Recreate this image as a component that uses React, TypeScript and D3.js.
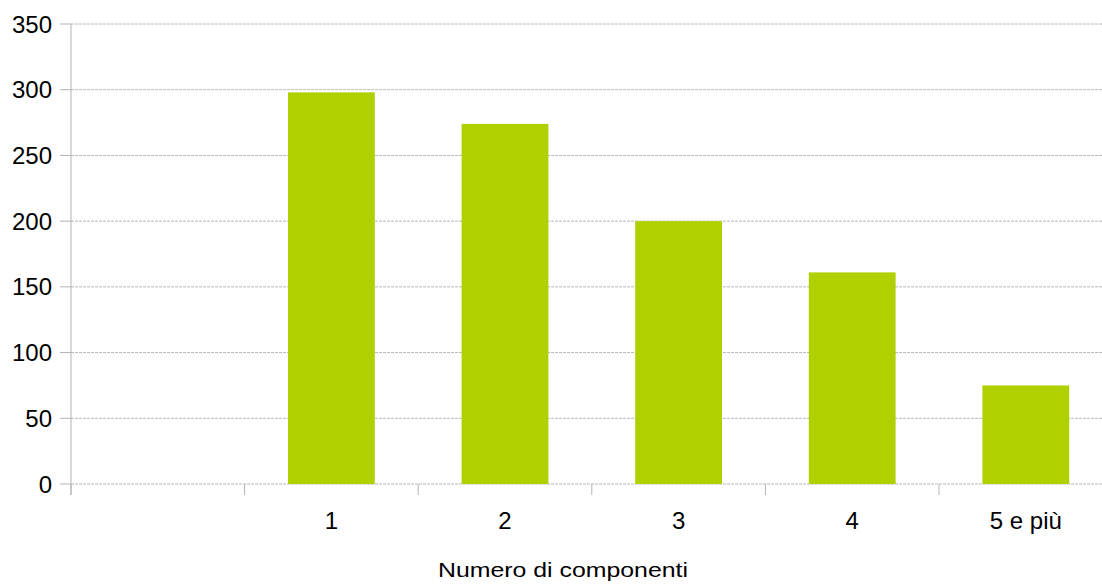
import React from "react";
import * as d3 from "d3";

const categories = ["", "1", "2", "3", "4", "5 e più"];
const values = [null, 298, 274, 200, 161, 75];
const yTicks = [0, 50, 100, 150, 200, 250, 300, 350];
const xTitle = "Numero di componenti";

export default function App() {
  const W = 1102, H = 586;
  const left = 71, right = 1112.6, top = 24, bottom = 484;
  const x = d3.scaleBand<string>().domain(categories.map((c, i) => i + "")).range([left, right]).paddingInner(0).paddingOuter(0);
  const y = d3.scaleLinear().domain([0, 350]).range([bottom, top]);
  const bw = x.bandwidth();
  const font = "'Liberation Sans', Arial, sans-serif";
  return (
    <svg width={W} height={H} style={{ position: "absolute", left: 0, top: 0 }} fontFamily={font}>
      <rect width={W} height={H} fill="#fff" />
      {yTicks.map((t) => (
        <g key={t}>
          <line x1={left} x2={right} y1={y(t)} y2={y(t)} stroke="#b8b8b8" strokeDasharray="3,1" strokeWidth={1} />
          <line x1={60} x2={left} y1={y(t)} y2={y(t)} stroke="#b3b3b3" strokeWidth={1} />
          <text x={52} y={y(t)} dy="0.36em" textAnchor="end" fontSize={24} fill="#000">{t}</text>
        </g>
      ))}
      <line x1={left} x2={left} y1={top} y2={495} stroke="#b3b3b3" strokeWidth={1} />
      {categories.map((c, i) => (
        <line key={"t" + i} x1={x(i + "")!} x2={x(i + "")!} y1={bottom} y2={495} stroke="#b3b3b3" strokeWidth={1} />
      ))}
      {values.map((v, i) =>
        v == null ? null : (
          <rect key={"b" + i} x={x(i + "")! + bw / 4} width={bw / 2} y={y(v)} height={y(0) - y(v)} fill="#b0d000" />
        )
      )}
      {categories.map((c, i) => (
        <text key={"l" + i} x={x(i + "")! + bw / 2} y={529} textAnchor="middle" fontSize={24} fill="#000">{c}</text>
      ))}
      <text x={438} y={577} fontSize={21} fill="#000" textLength={250} lengthAdjust="spacingAndGlyphs">{xTitle}</text>
    </svg>
  );
}
